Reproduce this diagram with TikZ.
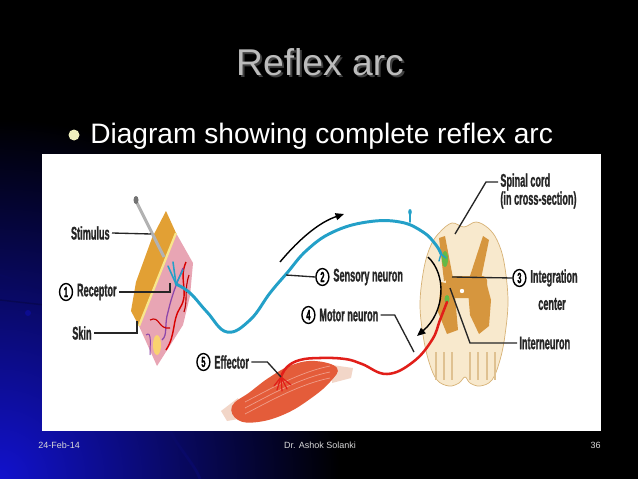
\documentclass[tikz,border=0pt]{standalone}
\usepackage{fontspec}
\setmainfont{Liberation Sans}
\newfontfamily\lblfont{Liberation Sans}[FakeStretch=0.5, FakeBold=1]
\usetikzlibrary{positioning,shapes.geometric,arrows.meta}
\definecolor{slideblue}{RGB}{18,18,205}
\definecolor{titlegray}{RGB}{188,188,188}
\definecolor{bulletyellow}{RGB}{240,240,190}
\definecolor{cordwhite}{RGB}{248,233,205}
\definecolor{cordedge}{RGB}{215,178,118}
\definecolor{graymatter}{RGB}{214,150,62}
\definecolor{sensoryblue}{RGB}{35,160,200}
\definecolor{motorred}{RGB}{225,30,25}
\definecolor{musclered}{RGB}{228,92,58}
\definecolor{tendon}{RGB}{242,214,200}
\definecolor{skinyellow}{RGB}{226,160,52}
\definecolor{paleyellow}{RGB}{248,230,140}
\definecolor{skinpink}{RGB}{232,165,180}
\definecolor{vesselpurple}{RGB}{140,70,170}
\definecolor{nailgray}{RGB}{178,178,178}
\definecolor{neurongreen}{RGB}{100,185,70}
\tikzset{
	lbl/.style={font=\lblfont\bfseries\fontsize{13}{13}\selectfont, text=black!85, inner sep=1.5pt},
	numc/.style={draw, ellipse, line width=1pt, inner sep=0pt, minimum width=9.2pt, minimum height=12pt, font=\lblfont\bfseries\fontsize{10.5}{10.5}\selectfont},
	leader/.style={line width=0.95pt, black!85},
	sensory/.style={sensoryblue, line width=2.1pt, line cap=round},
	motor/.style={motorred, line width=1.8pt, line cap=round},
	flowarrow/.style={line width=1pt, -{Triangle[length=6pt,width=5pt]}},
	footer/.style={text=black!15, font=\fontsize{6.4}{7}\selectfont, inner sep=0pt}
}

\begin{document}
\begin{tikzpicture}[x=0.025cm, y=-0.025cm]
			%%%%% START %%%%%
			
			\useasboundingbox (0,0) rectangle (638,479);
			\fill[black] (0,0) rectangle (638,479);
			\begin{scope}
				\clip (0,0) rectangle (638,479);
				\shade[inner color=slideblue, outer color=black] (0,479) ellipse (340 and 360);
				\draw[slideblue!45!black, line width=1.5pt] (0,275) -- (45,290);
				\draw[slideblue!40!black, line width=1pt] (0,300) -- (45,305);
				\fill[slideblue!70!black] (28,313) circle (3);
				\draw[slideblue!50!black, line width=2pt] (170,431) .. controls (180,450) and (195,465) .. (200,479);
			\end{scope}
			
			\node[text=black!75, font=\fontsize{26.5}{30}\selectfont, anchor=base] at (322,77) {Reflex arc};
			\node[text=titlegray, font=\fontsize{26.5}{30}\selectfont, anchor=base] (title) at (320,75) {Reflex arc};
			
			\fill[bulletyellow] (74,135) circle (5.5);
			\node[text=white, font=\fontsize{20}{24}\selectfont, anchor=base west, inner sep=0pt] (bullet) at (90,143) {Diagram showing complete reflex arc};
			
			\fill[white] (42,154) rectangle (601,431);
			
			\node[footer, anchor=base west] (date) at (38,448) {24-Feb-14};
			\node[footer, anchor=base] (author) at (320,448) {Dr. Ashok Solanki};
			\node[footer, anchor=base east] (page) at (601,448) {36};
			
			% spinal cord
			\filldraw[fill=cordwhite, draw=cordedge, line width=0.5pt] plot[smooth cycle, tension=0.6] coordinates {(440,232) (452,223) (464,227) (476,222) (488,228) (497,240) (504,262) (508,300) (505,335) (500,360) (492,380) (480,386) (470,383) (465,377) (459,383) (449,386) (437,380) (429,362) (423,335) (420,303) (424,268) (431,245)};
			\foreach \x in {436,444,452,470,478,487,495}
				\draw[cordedge!80, line width=1.2pt] (\x,352) -- (\x,380);
			\fill[graymatter] (439,238) -- (445,236) -- (453,278) -- (444,281) -- cycle;
			\fill[graymatter] (483,236) -- (489,240) -- (481,279) -- (469,279) -- cycle;
			\fill[graymatter, rounded corners=3pt] (446,276) rectangle (487,298);
			\fill[graymatter] (441,282) -- (454,285) -- (458,330) -- (447,334) -- (438,312) -- cycle;
			\fill[graymatter] (468,290) -- (487,285) -- (491,300) -- (489,326) -- (479,334) -- (470,315) -- cycle;
			\fill[white] (462,291) circle (2.2);
			\fill[neurongreen] (445,259) ellipse (3 and 8);
			\fill[neurongreen] (447,299) ellipse (2.5 and 4);
			
			% skin block
			\fill[skinyellow] (166,211) -- (176,233) -- (139,326) -- (131,311) -- (136,282) -- (152,238) -- cycle;
			\fill[skinpink] (176,233) -- (193,263) -- (190,296) -- (183,325) -- (157,366) -- (139,326) -- cycle;
			\draw[paleyellow, line width=1.6pt] (176,233) -- (139,326);
			\fill[paleyellow!80!orange] (157,345) ellipse (4 and 10);
			\draw[red!85!black, line width=1pt] (186,262) .. controls (178,280) and (190,292) .. (180,308) .. controls (172,320) and (176,335) .. (166,350);
			\draw[vesselpurple, line width=0.9pt] (183,268) .. controls (176,285) and (172,295) .. (168,312) .. controls (164,325) and (168,335) .. (162,340);
			\draw[red!80!black, line width=0.8pt] (150,320) .. controls (160,315) and (158,330) .. (170,328);
			\draw[vesselpurple, line width=0.7pt] (146,335) .. controls (152,330) and (150,345) .. (150,355);
			\draw[red!75!black, line width=0.8pt] (189,275) .. controls (184,290) and (188,300) .. (184,312);
			\draw[sensory, line width=1.1pt] (168,266) -- (176,284);
			\draw[sensory, line width=1.1pt] (173,262) -- (176,284);
			\draw[sensory, line width=1.1pt] (183,270) -- (176,284);
			\draw[nailgray, line width=2.2pt] (136,201) -- (164,257);
			\fill[black!55] (136,200) ellipse (2.5 and 4);
			
			% muscle
			\fill[tendon] (221,411) -- (238,398) -- (244,418) -- (227,421) -- cycle;
			\fill[tendon] (332,365) -- (353,368) -- (351,378) -- (332,383) -- cycle;
			\fill[musclered] plot[smooth cycle, tension=0.7] coordinates {(232,406) (250,392) (270,377) (292,365) (315,361) (337,368) (330,382) (310,399) (285,414) (258,422) (238,420)};
			\foreach \d in {-6,0,6}
				\draw[white!40!musclered, line width=0.5pt] (245,408+\d) .. controls (270,395+\d) and (300,378+\d) .. (330,372+\d);
			
			% neurons
			\draw[sensory] plot[smooth, tension=0.7] coordinates {(176,284) (190,293) (207,312) (227,332) (250,320) (270,293) (287,273) (307,250) (333,232) (367,222) (400,222) (423,232) (436,245) (441,254)};
			\draw[sensory, line width=1.2pt] (410,222) -- (410,214);
			\fill[sensoryblue] (410,212) ellipse (1.8 and 3);
			\draw[sensory, line width=1pt] (441,254) -- (446,258);
			\draw[sensory, line width=1pt] (441,254) -- (439,261);
			
			\draw[motor] plot[smooth, tension=0.7] coordinates {(447,302) (440,320) (432,340) (413,362) (387,374) (362,364) (345,359) (320,358) (300,360) (287,367) (281,377)};
			\foreach \a/\b in {274/386, 277/390, 282/391, 287/389, 291/385}
				\draw[motor, line width=0.9pt] (281,377) -- (\a,\b);
			
			% arrows
			\draw[flowarrow] (280,262) .. controls (300,238) and (320,222) .. (344,214);
			\draw[flowarrow] (428,257) .. controls (447,275) and (445,312) .. (417,336);
			
			% labels
			\node[lbl, anchor=east] (stim) at (112,233) {Stimulus};
			\coordinate (stimpt) at (151,234);
			\draw[leader] (stim.east) -- (stimpt);
			
			\node[lbl, anchor=east] (rec) at (119,292) {Receptor};
			\node[numc, left=1pt of rec] (recnum) {1};
			\coordinate (recpt) at (170,283);
			\draw[leader] (rec.east) -| (recpt);
			
			\node[lbl, anchor=east] (skin) at (94,333) {Skin};
			\coordinate (skinpt) at (137,321);
			\draw[leader] (skin.east) -| (skinpt);
			
			\node[lbl, anchor=west] (sens) at (331,277) {Sensory neuron};
			\node[numc, left=1pt of sens] (sensnum) {2};
			\coordinate (senspt) at (286,275);
			\draw[leader] (sensnum.west) -- (senspt);
			
			\node[lbl, anchor=west] (mot) at (317,315) {Motor neuron};
			\node[numc, left=1pt of mot] (motnum) {4};
			\coordinate (motpt) at (414,352);
			\draw[leader] (mot.east) -- ++(14,0) -- (motpt);
			
			\node[lbl, anchor=west] (eff) at (212,362) {Effector};
			\node[numc, left=1pt of eff] (effnum) {5};
			\coordinate (effpt) at (281,377);
			\draw[leader] (eff.east) -- ++(16,0) -- (effpt);
			
			\node[lbl, anchor=west] (integ) at (528,278) {Integration};
			\node[numc, left=1pt of integ] (integnum) {3};
			\node[lbl] (integ2) at (552,304) {center};
			\coordinate (integpt) at (452,277);
			\draw[leader] (integnum.west) -- (integpt);
			
			\node[lbl, anchor=west] (spc) at (498,182) {Spinal cord};
			\node[lbl, anchor=west] (spc2) at (498,200) {(in cross-section)};
			\coordinate (cordpt) at (455,234);
			\draw[leader] (spc.west) -- ++(-12,0) -- (cordpt);
			
			\node[lbl, anchor=west] (inter) at (517,343) {Interneuron};
			\coordinate (interpt) at (450,288);
			\draw[leader] (inter.west) -- ++(-47,0) -- (interpt);
			
			%%%%% END %%%%%
		\end{tikzpicture}
\end{document}
